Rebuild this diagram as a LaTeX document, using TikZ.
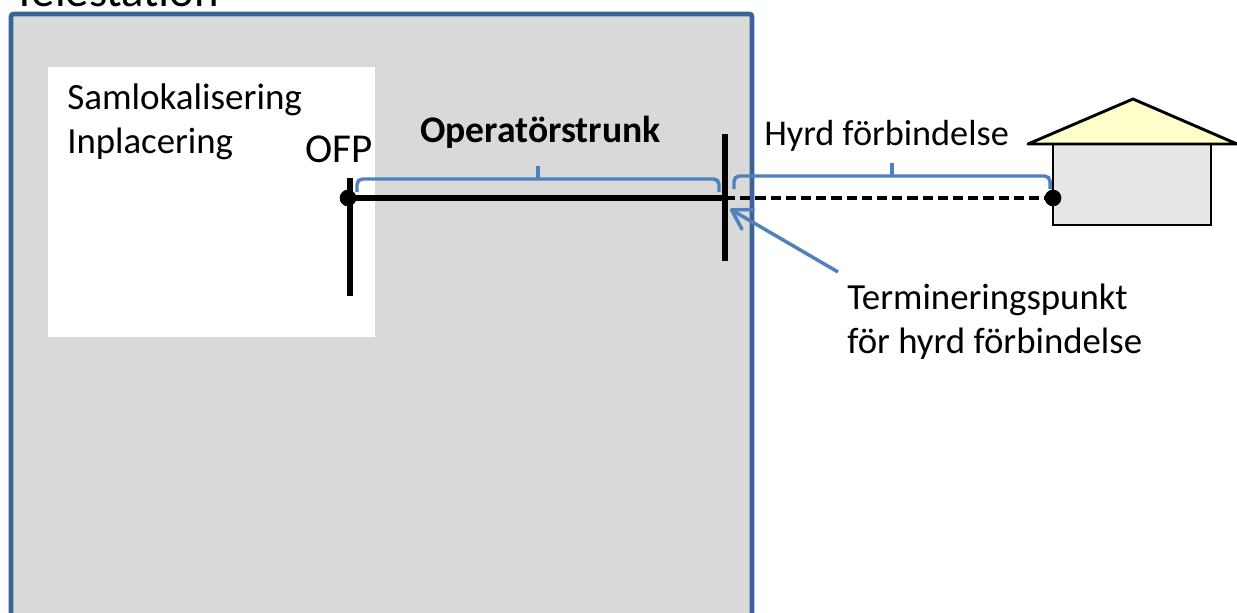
\documentclass[tikz,border=0pt]{standalone}
\usepackage{fontspec}
\setmainfont{Carlito}
\usetikzlibrary{arrows.meta}
\definecolor{frameblue}{HTML}{3A6496}
\definecolor{bracketblue}{HTML}{4F81BD}
\definecolor{stationgrey}{HTML}{D9D9D9}
\definecolor{wallgrey}{HTML}{E7E7E7}
\definecolor{roofyellow}{HTML}{FFFFCC}
\tikzset{
  x=0.75pt,y=-0.75pt,
  label text/.style={anchor=base west,inner sep=0pt,font=\fontsize{27.6}{33}\selectfont},
  thick bar/.style={line width=4.6pt,black},
  trunk/.style={line width=3.8pt,black},
  bracket/.style={line width=2.6pt,bracketblue,rounded corners=4pt},
  bracket tick/.style={line width=2.6pt,bracketblue},
  dot/.style={circle,fill=black,inner sep=0pt,minimum size=12.5pt},
}
\begin{document}
\begin{tikzpicture}
\useasboundingbox (0,0) rectangle (1237,613);
\clip (0,0) rectangle (1237,613);
\fill[white] (0,0) rectangle (1237,613);
% station
\draw[fill=stationgrey,draw=frameblue,line width=3.6pt,rounded corners=2pt] (11,700) -- (11,14) -- (752,14) -- (752,700);
\node[label text,font=\fontsize{35}{42}\selectfont] (tele) at (13,7) {Telestation};
\fill[white] (48,67) rectangle (375,337);
\node[label text,font=\fontsize{27.8}{33}\selectfont] (sam) at (67,109.5) {Samlokalisering};
\node[label text] (inp) at (67,154) {Inplacering};
\node[label text,font=\fontsize{30.8}{37}\selectfont] (ofp) at (305,162) {OFP};
\node[label text,font=\fontsize{28.2}{34}\selectfont\bfseries] (op) at (420,142.5) {Operatörstrunk};
\node[label text,font=\fontsize{27.2}{33}\selectfont] (hyrd) at (764,146) {Hyrd förbindelse};
\node[label text] (term1) at (847,309) {Termineringspunkt};
\node[label text] (term2) at (847,353) {för hyrd förbindelse};
% house
\draw[fill=wallgrey,draw=black,line width=2.2pt] (1053,144) rectangle (1211,225);
\draw[fill=roofyellow,draw=black,line width=2.2pt,line join=round] (1028,144) -- (1133,99) -- (1237,144) -- cycle;
% connector points
\node[dot] (a) at (348,198) {};
\node[dot] (b) at (1053,198) {};
\coordinate (t) at (725,198);
\coordinate (ofptop) at (350,178);
\coordinate (ofpbot) at (350,296);
\coordinate (ttop) at (725,134);
\coordinate (tbot) at (725,261);
\coordinate (tip) at (730,209);
\coordinate (tail) at (838,272);
\draw[thick bar] (ofptop) -- (ofpbot);
\draw[thick bar] (ttop) -- (tbot);
\draw[trunk] (a.center) -- (t);
\draw[line width=3.2pt,black,dash pattern=on 7.6pt off 3.8pt] (t) -- (b);
\draw[line width=2.6pt,bracketblue,-{Straight Barb[length=14pt,width=17pt,round]}] (tail) -- (tip);
% brackets
\draw[bracket] (357,192) -- (357,179) -- (719,179) -- (719,192);
\draw[bracket tick] (538,179) -- (538,166);
\draw[bracket] (734,189) -- (734,176) -- (1050,176) -- (1050,189);
\draw[bracket tick] (892,176) -- (892,163);
\end{tikzpicture}
\end{document}
